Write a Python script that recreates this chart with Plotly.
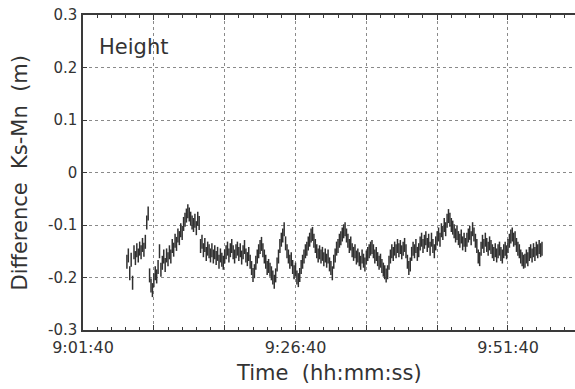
import plotly.graph_objects as go

# ---- data ----
t_start = 9 * 3600 + 6 * 60 + 50       # first sample 9:06:50 (seconds since midnight)
t_step = 10                            # sampling interval (s)
diff_height = [
    -0.170, -0.158, -0.192, -0.166, -0.210, -0.152, -0.163, -0.148, -0.158, -0.145,
    -0.152, -0.138, -0.147, -0.132, -0.095, -0.078, -0.196, -0.215, -0.224, -0.205,
    -0.192, -0.198, -0.180, -0.150, -0.185, -0.172, -0.160, -0.176, -0.158, -0.165,
    -0.152, -0.160, -0.140, -0.147, -0.130, -0.136, -0.120, -0.125, -0.110, -0.115,
    -0.098, -0.090, -0.082, -0.074, -0.080, -0.088, -0.095, -0.100, -0.092, -0.106,
    -0.088, -0.096, -0.140, -0.132, -0.148, -0.138, -0.155, -0.145, -0.150, -0.158,
    -0.148, -0.160, -0.152, -0.163, -0.155, -0.170, -0.158, -0.166, -0.172, -0.160,
    -0.152, -0.145, -0.158, -0.148, -0.140, -0.152, -0.160, -0.150, -0.145, -0.155,
    -0.148, -0.162, -0.152, -0.142, -0.158, -0.165, -0.155, -0.170, -0.182, -0.195,
    -0.188, -0.172, -0.160, -0.150, -0.142, -0.136, -0.148, -0.160, -0.170, -0.182,
    -0.178, -0.185, -0.192, -0.200, -0.208, -0.196, -0.175, -0.160, -0.140, -0.128,
    -0.120, -0.108, -0.135, -0.150, -0.160, -0.170, -0.165, -0.180, -0.190, -0.185,
    -0.200, -0.205, -0.195, -0.180, -0.170, -0.160, -0.150, -0.145, -0.135, -0.128,
    -0.120, -0.117, -0.130, -0.140, -0.150, -0.158, -0.152, -0.160, -0.155, -0.165,
    -0.158, -0.168, -0.160, -0.175, -0.182, -0.192, -0.170, -0.158, -0.145, -0.140,
    -0.130, -0.125, -0.118, -0.112, -0.108, -0.120, -0.130, -0.140, -0.135, -0.148,
    -0.155, -0.150, -0.162, -0.158, -0.165, -0.172, -0.160, -0.168, -0.175, -0.162,
    -0.155, -0.150, -0.145, -0.142, -0.150, -0.160, -0.155, -0.165, -0.172, -0.168,
    -0.178, -0.185, -0.190, -0.196, -0.190, -0.172, -0.160, -0.150, -0.155, -0.145,
    -0.150, -0.140, -0.148, -0.142, -0.152, -0.145, -0.138, -0.150, -0.170, -0.182,
    -0.175, -0.155, -0.145, -0.150, -0.140, -0.155, -0.148, -0.135, -0.128, -0.140,
    -0.132, -0.125, -0.138, -0.130, -0.145, -0.128, -0.140, -0.150, -0.135, -0.125,
    -0.118, -0.128, -0.110, -0.115, -0.100, -0.108, -0.092, -0.083, -0.090, -0.100,
    -0.105, -0.112, -0.120, -0.115, -0.125, -0.130, -0.122, -0.135, -0.128, -0.138,
    -0.128, -0.120, -0.115, -0.125, -0.108, -0.118, -0.130, -0.140, -0.160, -0.165,
    -0.145, -0.132, -0.140, -0.128, -0.138, -0.145, -0.135, -0.142, -0.150, -0.155,
    -0.148, -0.158, -0.150, -0.145, -0.155, -0.160, -0.150, -0.145, -0.152, -0.140,
    -0.130, -0.122, -0.118, -0.128, -0.125, -0.138, -0.145, -0.150, -0.160, -0.165,
    -0.170, -0.168, -0.160, -0.165, -0.155, -0.150, -0.158, -0.148, -0.155, -0.145,
    -0.150, -0.142, -0.148, -0.145,
]
times = [t_start + t_step * i for i in range(len(diff_height))]

x_label_times = [9 * 3600 + 1 * 60 + 40, 9 * 3600 + 26 * 60 + 40, 9 * 3600 + 51 * 60 + 40]
x_tick_labels = ["9:01:40", "9:26:40", "9:51:40"]
x_grid_step = 500
y_tick_vals = [-0.3, -0.2, -0.1, 0, 0.1, 0.2, 0.3]
y_tick_labels = ["-0.3", "-0.2", "-0.1", "0", "0.1", "0.2", "0.3"]

x0 = x_label_times[0]
x_range = [x0, x0 + 3473]
grid_vals = [x0 + x_grid_step * k for k in range(8)]
grid_text = [x_tick_labels[x_label_times.index(v)] if v in x_label_times else "" for v in grid_vals]

FONT = "DejaVu Sans"
INK = "#333333"

fig = go.Figure()
fig.add_trace(go.Scatter(
    x=times, y=diff_height, mode="markers",
    marker=dict(symbol="line-ns", size=10, line=dict(width=1.5, color="#303030")),
    showlegend=False,
))

fig.update_layout(
    width=575, height=389,
    margin=dict(l=83, r=0, t=15, b=59),
    paper_bgcolor="white", plot_bgcolor="white",
    font=dict(family=FONT, color=INK),
    xaxis=dict(
        range=x_range, tickmode="array", tickvals=grid_vals, ticktext=grid_text,
        showgrid=True, gridcolor="#8a8a8a", griddash="dot", gridwidth=1,
        showline=True, linecolor="#3a3a3a", linewidth=1.5, mirror="ticks",
        ticks="inside", ticklen=5, tickcolor="#3a3a3a", tickwidth=1,
        minor=dict(tick0=x0, dtick=100, ticks="inside", ticklen=3, tickcolor="#3a3a3a", showgrid=False),
        tickfont=dict(size=16, family=FONT, color=INK), ticklabelstandoff=2,
        zeroline=False,
    ),
    yaxis=dict(
        range=[-0.3, 0.3], tickmode="array", tickvals=y_tick_vals, ticktext=y_tick_labels,
        showgrid=True, gridcolor="#8a8a8a", griddash="dot", gridwidth=1,
        showline=True, linecolor="#3a3a3a", linewidth=1.5,
        ticks="inside", ticklen=4, tickcolor="#3a3a3a",
        tickfont=dict(size=15, family=FONT, color=INK), ticklabelstandoff=1,
        zeroline=False,
    ),
)

fig.add_annotation(text="Height", xref="paper", yref="paper", x=0.028, y=0.898,
                   xanchor="left", yanchor="middle", showarrow=False,
                   font=dict(size=21, family=FONT, color=INK))
fig.add_annotation(text="Difference\u00a0\u00a0Ks-Mn\u00a0\u00a0(m)", xref="paper", yref="paper",
                   x=-0.130, y=0.5, xanchor="center", yanchor="middle", textangle=-90,
                   showarrow=False, font=dict(size=21, family=FONT, color=INK))
fig.add_annotation(text="Time\u00a0\u00a0(hh:mm:ss)", xref="paper", yref="paper",
                   x=0.5, y=-0.137, xanchor="center", yanchor="middle",
                   showarrow=False, font=dict(size=21, family=FONT, color=INK))

fig.write_html("out.html")
